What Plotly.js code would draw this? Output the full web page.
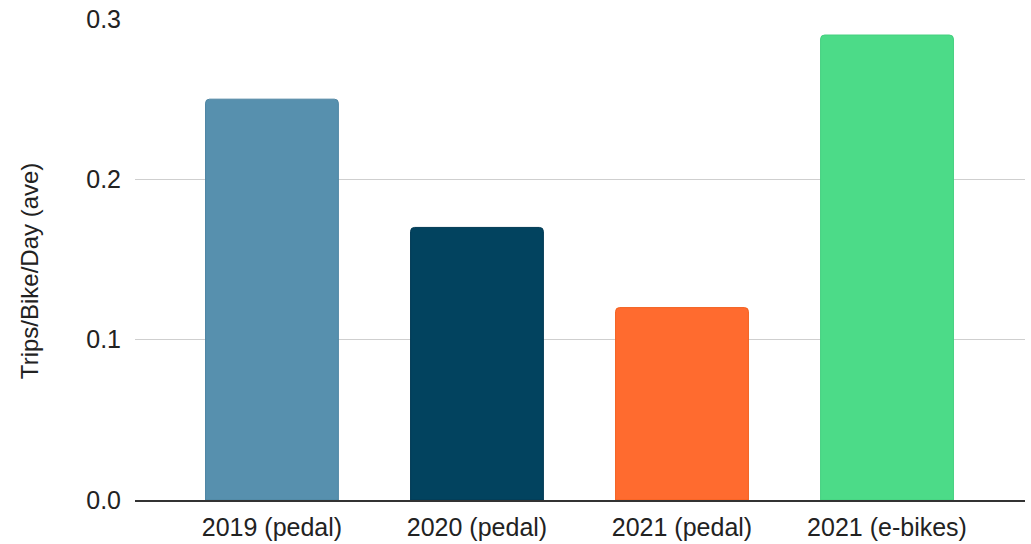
<!DOCTYPE html>
<html>
<head>
<meta charset="utf-8">
<script src="https://cdn.plot.ly/plotly-3.0.1.min.js"></script>
<style>html,body{margin:0;padding:0;background:#fff;}#chart{width:1031px;height:544px;}</style>
</head>
<body>
<div id="chart"></div>
<script>
const categories = ["2019 (pedal)", "2020 (pedal)", "2021 (pedal)", "2021 (e-bikes)"];
const tripsPerBikePerDay = [0.25, 0.17, 0.12, 0.29];
const barColors = ["#5790ae", "#02435f", "#ff6b2f", "#4cdb88"];
const barBorders = ["#4f86a3", "#023a54", "#f2611f", "#44d07f"];
const yTickValues = [0, 0.1, 0.2, 0.3];
const yTickLabels = ["0.0", "0.1", "0.2", "0.3"];
const yTitle = "Trips/Bike/Day (ave)";

const trace = {
  type: "bar",
  x: categories,
  y: tripsPerBikePerDay,
  width: 0.648,
  marker: {
    color: barColors,
    line: {color: barBorders, width: 1},
    cornerradius: 4
  },
  hoverinfo: "x+y"
};

const layout = {
  width: 1031,
  height: 544,
  margin: {l: 135, r: 6, t: 19, b: 44},
  paper_bgcolor: "#fff",
  plot_bgcolor: "#fff",
  showlegend: false,
  font: {family: "Liberation Sans, Arial, sans-serif", size: 24, color: "#222"},
  xaxis: {
    type: "category",
    range: [-0.668, 3.673],
    showgrid: false,
    showline: true,
    linecolor: "#333",
    linewidth: 1.5,
    ticks: "",
    ticklabelstandoff: 4,
    tickfont: {size: 25, color: "#222"},
    fixedrange: true
  },
  yaxis: {
    range: [0, 0.3],
    tickvals: yTickValues,
    ticktext: yTickLabels,
    showgrid: true,
    gridcolor: "#cfcfcf",
    gridwidth: 1.5,
    zeroline: false,
    showline: false,
    ticks: "",
    ticklabelstandoff: 13,
    tickfont: {size: 25, color: "#222"},
    fixedrange: true
  },
  annotations: [{
    text: yTitle,
    xref: "paper", yref: "paper",
    x: -0.119, y: 0.476,
    xanchor: "center", yanchor: "middle",
    textangle: -90,
    showarrow: false,
    font: {size: 24, color: "#222"}
  }]
};

Plotly.newPlot("chart", [trace], layout, {displayModeBar: false, staticPlot: true});
</script>
</body>
</html>
